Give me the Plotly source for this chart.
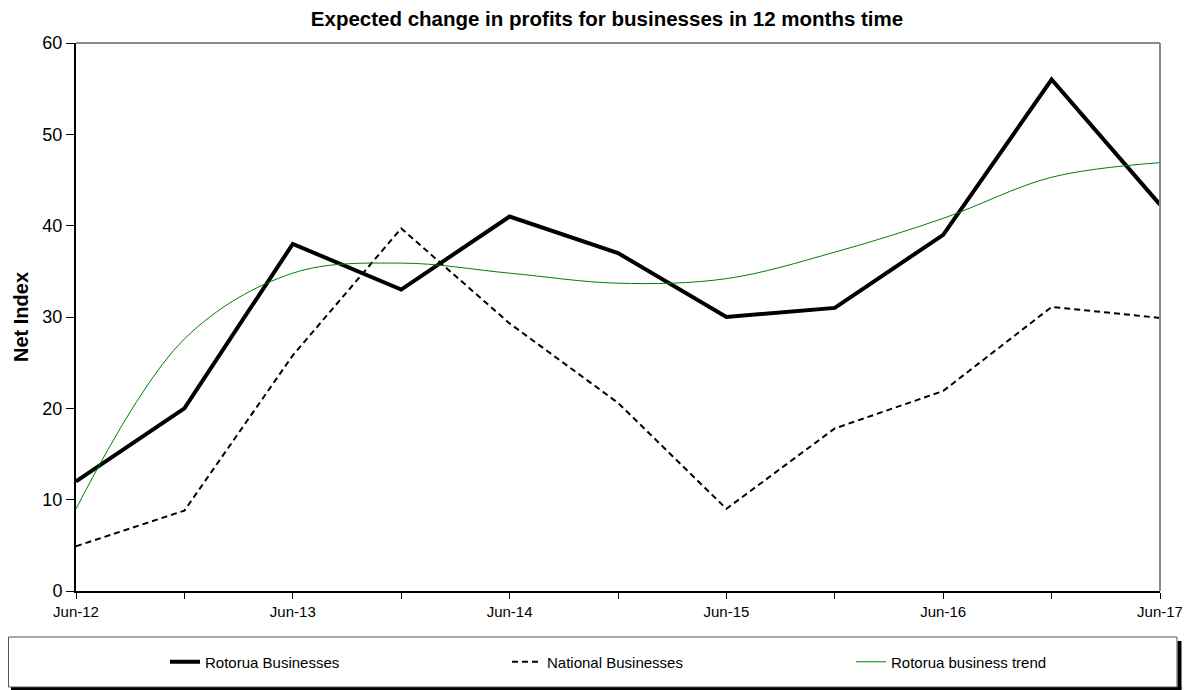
import plotly.graph_objects as go

periods = ["Jun-12", "Dec-12", "Jun-13", "Dec-13", "Jun-14", "Dec-14",
           "Jun-15", "Dec-15", "Jun-16", "Dec-16", "Jun-17"]
tick_labels = ["Jun-12", "", "Jun-13", "", "Jun-14", "", "Jun-15", "", "Jun-16", "", "Jun-17"]
rotorua = [12, 20, 38, 33, 41, 37, 30, 31, 39, 56, 42.3]
national = [4.9, 8.8, 25.8, 39.7, 29.3, 20.6, 9.0, 17.8, 21.9, 31.1, 29.9]
trend = [9.0, 27.6, 34.8, 35.9, 34.8, 33.7, 34.2, 37.1, 40.8, 45.3, 46.9]

OFF = 8  # page body margin
W, H = 1190 - OFF, 690 - OFF
L, R, T, B = 76 - OFF, 1160 - OFF, 43 - OFF, 591 - OFF

def px(x):
    return (x - OFF - L) / (R - L)

def py(y):
    return (B - (y - OFF)) / (B - T)

FONT = "Liberation Sans, Arial, sans-serif"

fig = go.Figure()
fig.add_trace(go.Scatter(x=periods, y=rotorua, mode="lines", name="Rotorua Businesses",
                         line=dict(color="black", width=4)))
fig.add_trace(go.Scatter(x=periods, y=national, mode="lines", name="National Businesses",
                         line=dict(color="black", width=2, dash="6px,4px"), legend="legend2"))
fig.add_trace(go.Scatter(x=periods, y=trend, mode="lines", name="Rotorua business trend",
                         line=dict(color="#008000", width=1, shape="spline", smoothing=1.0),
                         legend="legend3"))

BOX_R = 1177
shapes = [
    dict(type="line", xref="paper", yref="paper", x0=0, x1=1, y0=1, y1=1,
         line=dict(color="#888888", width=2)),
    dict(type="line", xref="paper", yref="paper", x0=1, x1=1, y0=0, y1=1,
         line=dict(color="#888888", width=2)),
    # legend shadow (right and bottom)
    dict(type="line", xref="paper", yref="paper", x0=px(BOX_R + 2.5), x1=px(BOX_R + 2.5),
         y0=py(641), y1=py(689), line=dict(color="black", width=4)),
    dict(type="line", xref="paper", yref="paper", x0=px(11), x1=px(BOX_R + 4.5),
         y0=py(688.5), y1=py(688.5), line=dict(color="black", width=3)),
    # legend border
    dict(type="rect", xref="paper", yref="paper", x0=px(8.5), x1=px(BOX_R), y0=py(687), y1=py(637),
         fillcolor="rgba(0,0,0,0)", line=dict(color="#555555", width=1)),
]

def leg(xpix):
    return dict(orientation="h", x=px(xpix), xanchor="left", y=py(662), yanchor="middle",
                bgcolor="rgba(0,0,0,0)", font=dict(size=15, family=FONT, color="black"))

fig.update_layout(
    width=W, height=H,
    margin=dict(l=L, r=W - R, t=T, b=H - B, autoexpand=False),
    paper_bgcolor="white", plot_bgcolor="white",
    font=dict(family=FONT, color="black"),
    showlegend=True,
    title=dict(text="<b>Expected change in profits for businesses in 12 months time</b>",
               x=(607 - OFF) / W, xanchor="center", y=1 - (19 - OFF) / H, yanchor="middle",
               font=dict(size=20.5, family=FONT, color="black")),
    xaxis=dict(type="category", range=[0, 10], tickmode="array", tickvals=periods,
               ticktext=tick_labels, ticks="outside", ticklen=6, tickcolor="black",
               showline=True, linecolor="black", linewidth=2, showgrid=False, zeroline=False,
               tickfont=dict(size=15, family=FONT)),
    yaxis=dict(range=[0, 60], tickvals=[0, 10, 20, 30, 40, 50, 60], ticks="outside", ticklen=8,
               tickcolor="black", showline=True, linecolor="black", linewidth=2,
               showgrid=False, zeroline=False, tickfont=dict(size=18, family=FONT),
               title=dict(text="<b>Net Index</b>", font=dict(size=20, family=FONT), standoff=8)),
    legend=leg(165),
    legend2=leg(507),
    legend3=leg(851),
    shapes=shapes,
)

fig.write_html("out.html", post_script="document.body.style.overflow='hidden';")
